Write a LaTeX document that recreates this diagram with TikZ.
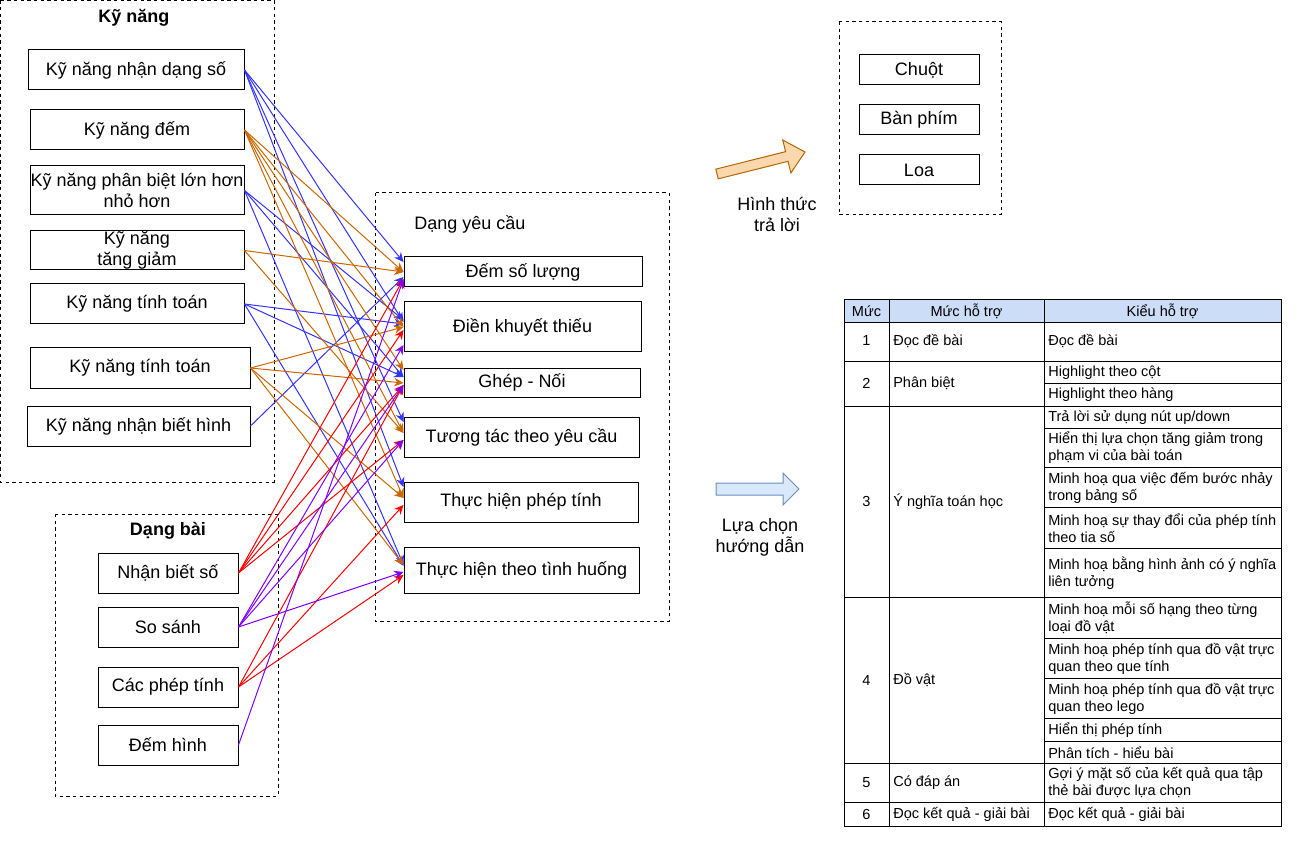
\documentclass[tikz,border=0pt]{standalone}
\usepackage{fontspec}
\setmainfont{Liberation Sans}
\usetikzlibrary{arrows.meta}
\definecolor{cblue}{RGB}{51,51,255}
\definecolor{corange}{RGB}{204,102,0}
\definecolor{cred}{RGB}{255,0,0}
\definecolor{cpurple}{RGB}{127,0,255}
\definecolor{hdrfill}{RGB}{204,221,247}
\definecolor{oafill}{RGB}{250,215,172}
\definecolor{oaline}{RGB}{180,101,4}
\definecolor{bafill}{RGB}{218,232,252}
\definecolor{baline}{RGB}{108,142,191}
\begin{document}
\begin{tikzpicture}[x=0.75pt,y=-0.75pt,
  font=\fontsize{13.5}{15.75}\selectfont,
  box/.style={draw, line width=0.75pt, fill=white, inner sep=0pt, align=center},
  sz/.style 2 args={minimum width=#1*0.75pt, minimum height=#2*0.75pt},
  grp/.style={draw, line width=0.75pt, dash pattern=on 2.5pt off 2.5pt},
  lbl/.style={inner sep=0pt, align=center},
  ttl/.style={inner sep=0pt, font=\fontsize{13.5}{15.75}\selectfont\bfseries},
  tb/.style={inner sep=0pt, align=left, anchor=west, font=\fontsize{10.9}{12.75}\selectfont},
  tc/.style={inner sep=0pt, align=center, font=\fontsize{10.9}{12.75}\selectfont},
  tline/.style={line width=0.6pt},
  arr/.style={line width=0.75pt, -{Stealth[length=7pt,width=6.5pt]}},
  eb/.style={arr, draw=cblue},
  eo/.style={arr, draw=corange},
  er/.style={arr, draw=cred},
  ep/.style={arr, draw=cpurple}]
\useasboundingbox (0,0) rectangle (1309,841);

% group frames
\draw[grp] (0.5,0.5) rectangle (274,482);
\draw[grp] (55,514) rectangle (278,796);
\draw[grp] (375,193) rectangle (669,621);
\draw[grp] (839,22) rectangle (1001,215);

\node[ttl] (tk) at (134,18) {Kỹ năng};
\node[ttl] (td) at (168,531) {Dạng bài};
\node[lbl, anchor=west] (ty) at (414,224) {Dạng yêu cầu};

% skill boxes
\node[box, sz={216}{40}] (S1) at (136,70) {Kỹ năng nhận dạng số};
\node[box, sz={214}{40}] (S2) at (137,130) {Kỹ năng đếm};
\node[box, sz={214}{49}] (S3) at (137,190.5) {Kỹ năng phân biệt lớn hơn\\nhỏ hơn};
\node[box, sz={214}{39}] (S4) at (137,250.5) {Kỹ năng\\tăng giảm};
\node[box, sz={214}{40}] (S5) at (137,304) {Kỹ năng tính toán};
\node[box, sz={220}{40}] (S6) at (140,368) {Kỹ năng tính toán};
\node[box, sz={223}{40}] (S7) at (138.5,426) {Kỹ năng nhận biết hình};

% exercise type boxes
\node[box, sz={140}{40}] (D1) at (168,573) {Nhận biết số};
\node[box, sz={140}{40}] (D2) at (168,627) {So sánh};
\node[box, sz={140}{40}] (D3) at (168,687) {Các phép tính};
\node[box, sz={140}{40}] (D4) at (168,745) {Đếm hình};

% request type boxes
\node[box, sz={238}{30}] (T1) at (523,272) {Đếm số lượng};
\node[box, sz={237}{50}] (T2) at (522.5,327) {Điền khuyết thiếu};
\node[box, sz={236}{29}] (T3) at (522,382.5) {Ghép - Nối};
\node[box, sz={235}{40}] (T4) at (521.5,437) {Tương tác theo yêu cầu};
\node[box, sz={234}{40}] (T5) at (521,502) {Thực hiện phép tính};
\node[box, sz={235}{46}] (T6) at (521.5,570) {Thực hiện theo tình huống};

% input devices
\node[box, sz={120}{30}] (C1) at (919,70) {Chuột};
\node[box, sz={120}{30}] (C2) at (919,120) {Bàn phím};
\node[box, sz={120}{30}] (C3) at (919,170) {Loa};

% blue edges
\draw[eb] (S1.east) -- (T1.west |- 0,262);
\draw[eb] (S1.east) -- (T2.west |- 0,322);
\draw[eb] (S1.east) -- (T4.west |- 0,422);
\draw[eb] (S1.east) -- (T5.west |- 0,487);
\draw[eb] (S3.east) -- (T2.west |- 0,320);
\draw[eb] (S3.east) -- (T3.west |- 0,377);
\draw[eb] (S3.east) -- (T6.west |- 0,565);
\draw[eb] (S5.east) -- (T2.west |- 0,324);
\draw[eb] (S5.east) -- (T3.west |- 0,377);
\draw[eb] (S5.east) -- (T6.west |- 0,566);
\draw[eb] (S7.east) -- (T1.west |- 0,277);
% orange edges
\draw[eo] (S2.east) -- (T1.west |- 0,272);
\draw[eo] (S2.east) -- (T2.west |- 0,327);
\draw[eo] (S2.east) -- (T3.west |- 0,370);
\draw[eo] (S2.east) -- (T4.west |- 0,433);
\draw[eo] (S2.east) -- (T5.west |- 0,498);
\draw[eo] (S4.east) -- (T1.west |- 0,272);
\draw[eo] (S4.east) -- (T4.west |- 0,433);
\draw[eo] (S6.east) -- (T2.west |- 0,327);
\draw[eo] (S6.east) -- (T3.west |- 0,383);
\draw[eo] (S6.east) -- (T5.west |- 0,498);
\draw[eo] (S6.east) -- (T6.west |- 0,565);
% red edges
\draw[er] (D1.east) -- (T1.west |- 0,279);
\draw[er] (D1.east) -- (T2.west |- 0,330);
\draw[er] (D1.east) -- (T3.west |- 0,385);
\draw[er] (D1.east) -- (T4.west |- 0,440);
\draw[er] (D3.east) -- (T3.west |- 0,385);
\draw[er] (D3.east) -- (T5.west |- 0,505);
\draw[er] (D3.east) -- (T6.west |- 0,575);
% purple edges
\draw[ep] (D2.east) -- (T2.west |- 0,345);
\draw[ep] (D2.east) -- (T3.west |- 0,385);
\draw[ep] (D2.east) -- (T4.west |- 0,440);
\draw[ep] (D2.east) -- (T6.west |- 0,572);
\draw[ep] (D4.east) -- (T1.west |- 0,279);

% orange block arrow
\draw[draw=oaline, fill=oafill, line width=0.75pt, line join=miter]
  (715.8,169.15) -- (785.6,151.65) -- (782.7,140.0) -- (805,152)
  -- (790.9,173.0) -- (788.0,161.35) -- (718.2,178.85) -- cycle;
\node[lbl] (la) at (777,214.5) {Hình thức\\trả lời};

% blue block arrow
\draw[draw=baline, fill=bafill, line width=0.75pt, line join=miter]
  (716,483) -- (783,483) -- (783,473) -- (799,489) -- (783,505)
  -- (783,495) -- (716,495) -- cycle;
\node[lbl] (lb) at (760,537) {Lựa chọn\\hướng dẫn};

% table
\fill[hdrfill] (844,299) rectangle (1281,322);
\draw[tline] (844,299) rectangle (1281,826);
\draw[tline] (889,299) -- (889,826);
\draw[tline] (1044,299) -- (1044,826);
\foreach \yy in {322,361,406,597,763,802} \draw[tline] (844,\yy) -- (1281,\yy);
\foreach \yy in {383,428,467,507,548,638,678,718,741} \draw[tline] (1044,\yy) -- (1281,\yy);

\node[tc] (h1) at (866.5,311) {Mức};
\node[tc] (h2) at (966.5,311) {Mức hỗ trợ};
\node[tc] (h3) at (1162.5,311) {Kiểu hỗ trợ};

\node[tc] (n1) at (866.5,341) {1};
\node[tc] (n2) at (866.5,383.5) {2};
\node[tc] (n3) at (866.5,501.5) {3};
\node[tc] (n4) at (866.5,680.5) {4};
\node[tc] (n5) at (866.5,782.5) {5};
\node[tc] (n6) at (866.5,814.5) {6};

\node[tb] (m1) at (893,341.5) {Đọc đề bài};
\node[tb] (m2) at (893,383.5) {Phân biệt};
\node[tb] (m3) at (893,501.5) {Ý nghĩa toán học};
\node[tb] (m4) at (893,680.5) {Đồ vật};
\node[tb] (m5) at (893,782.5) {Có đáp án};
\node[tb] (m6) at (893,814.5) {Đọc kết quả - giải bài};

\node[tb] (k1) at (1048,341.5) {Đọc đề bài};
\node[tb] (k2) at (1048,372.5) {Highlight theo cột};
\node[tb] (k3) at (1048,395) {Highlight theo hàng};
\node[tb] (k4) at (1048,417.5) {Trả lời sử dụng nút up/down};
\node[tb] (k5) at (1048,448) {Hiển thị lựa chọn tăng giảm trong\\phạm vi của bài toán};
\node[tb] (k6) at (1048,488) {Minh hoạ qua việc đếm bước nhảy\\trong bảng số};
\node[tb] (k7) at (1048,528.5) {Minh hoạ sự thay đổi của phép tính\\theo tia số};
\node[tb] (k8) at (1048,573) {Minh hoạ bằng hình ảnh có ý nghĩa\\liên tưởng};
\node[tb] (k9) at (1048,618) {Minh hoạ mỗi số hạng theo từng\\loại đồ vật};
\node[tb] (k10) at (1048,658.5) {Minh hoạ phép tính qua đồ vật trực\\quan theo que tính};
\node[tb] (k11) at (1048,698.5) {Minh hoạ phép tính qua đồ vật trực\\quan theo lego};
\node[tb] (k12) at (1048,730) {Hiển thị phép tính};
\node[tb] (k13) at (1048,752.5) {Phân tích - hiểu bài};
\node[tb] (k14) at (1048,783) {Gợi ý mặt số của kết quả qua tập\\thẻ bài được lựa chọn};
\node[tb] (k15) at (1048,814.5) {Đọc kết quả - giải bài};
\end{tikzpicture}
\end{document}
